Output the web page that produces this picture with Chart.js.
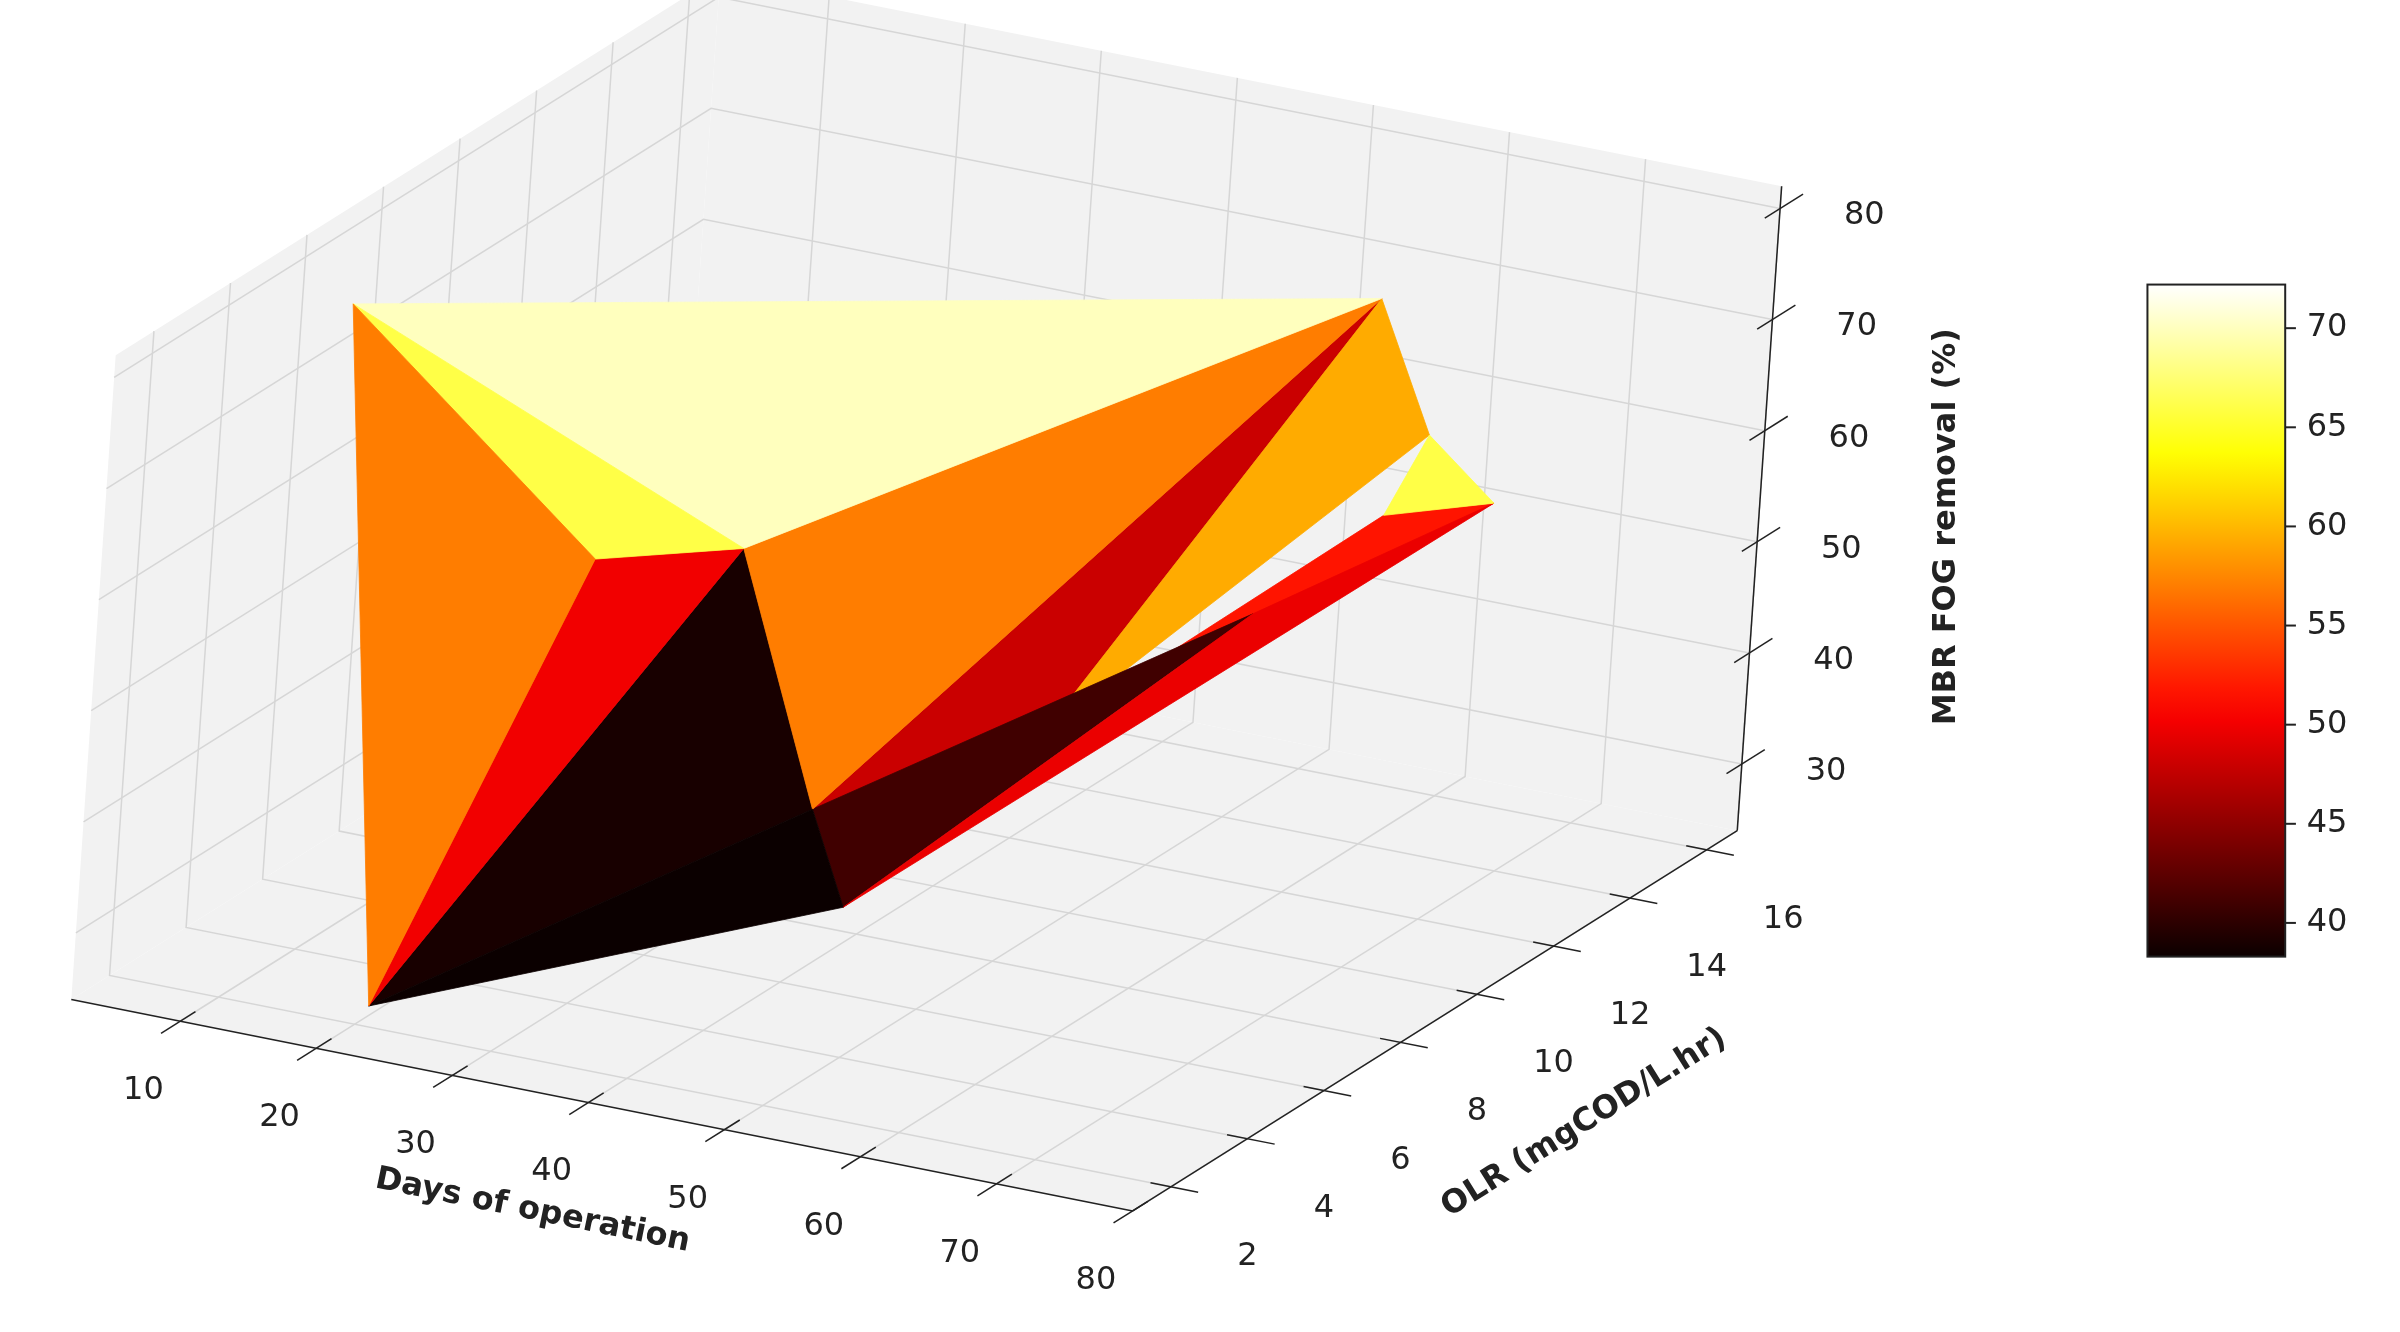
<!DOCTYPE html>
<html>
<head>
<meta charset="utf-8">
<script src="https://cdn.jsdelivr.net/npm/chart.js@4.4.1/dist/chart.umd.min.js"></script>
<style>
  html, body { margin: 0; padding: 0; background: #fff; }
  #wrap { width: 2400px; height: 1332px; }
</style>
</head>
<body>
<div id="wrap"><canvas id="c"></canvas></div>
<script>
// surface vertices (days, OLR, removal %)
const dayValues = [4.1, 22, 34.6, 27.8, 37.8, 66.7, 35.5, 71.1, 73.2, 71.9, 56.7, 50.7];
const olrValues = [6.6, 1.6, 2.2, 8.8, 7.4, 11.1, 14.4, 11.0, 12.1, 9.6, 1.3, 14.2];
const removalValues = [75, 27, 69, 54, 36, 81, 27, 70, 62, 66, 45, 42];
const triangles = [[0,1,2],[0,2,3],[0,3,5],[2,1,3],[3,1,4],[3,4,5],[4,6,5],[5,7,6],[7,8,9],[6,9,8],[1,10,4],[4,10,11],[10,8,11]];

const dayTicks = [10, 20, 30, 40, 50, 60, 70, 80];
const olrTicks = [2, 4, 6, 8, 10, 12, 14, 16];
const zTicks = [30, 40, 50, 60, 70, 80];
const cbarTicks = [40, 45, 50, 55, 60, 65, 70];
const dayRange = [2, 80], olrRange = [1, 16.8], zRange = [24, 82];
const cMin = 38.3, cMax = 72.2;

// projection into reference pixel space (1568 x 880)
function proj(d, o, z) {
  return {
    x: 740 + (d - 80) * 8.89 + (o - 1) * 25 + (z - 24) * 0.5,
    y: 800 + (d - 80) * 1.79 - (o - 1) * 15.9 - (z - 24) * 7.34
  };
}
function depth(d, o, z) {
  const xn = (d - dayRange[0]) / (dayRange[1] - dayRange[0]);
  const yn = (o - olrRange[0]) / (olrRange[1] - olrRange[0]);
  const zn = (z - zRange[0]) / (zRange[1] - zRange[0]);
  return 0.433 * xn - 0.75 * yn + 0.5 * zn;
}
function hot(t) {
  t = Math.max(0, Math.min(1, t));
  const c = v => Math.round(255 * Math.max(0, Math.min(1, v)));
  return `rgb(${c(0.0416 + t / 0.365 * 0.958)},${c((t - 0.365) / 0.381)},${c((t - 0.746) / 0.254)})`;
}

const back = [];   // drawn first
const PANE = 'rgba(242,242,242,1)', GRID = '#d6d6d6';
function poly(pts, fillCol, lineCol, w) {
  return { data: pts.map(p => proj(...p)), showLine: true, pointRadius: 0,
    borderColor: lineCol, borderWidth: w, backgroundColor: fillCol, fill: fillCol ? 'shape' : false };
}
const [d0, d1] = dayRange, [o0, o1] = olrRange, [z0, z1] = zRange;
// panes
back.push(poly([[d0,o0,z0],[d0,o1,z0],[d0,o1,z1],[d0,o0,z1],[d0,o0,z0]], PANE, PANE, 0));
back.push(poly([[d0,o1,z0],[d1,o1,z0],[d1,o1,z1],[d0,o1,z1],[d0,o1,z0]], PANE, PANE, 0));
back.push(poly([[d0,o0,z0],[d1,o0,z0],[d1,o1,z0],[d0,o1,z0],[d0,o0,z0]], PANE, PANE, 0));
// grid lines
dayTicks.forEach(d => {
  back.push(poly([[d,o0,z0],[d,o1,z0],[d,o1,z1]], null, GRID, 1.5));
});
olrTicks.forEach(o => {
  back.push(poly([[d1,o,z0],[d0,o,z0],[d0,o,z1]], null, GRID, 1.5));
});
zTicks.forEach(z => {
  back.push(poly([[d0,o0,z],[d0,o1,z],[d1,o1,z]], null, GRID, 1.5));
});
// axis lines and tick marks
const AX = '#222';
back.push(poly([[d0,o0,z0],[d1,o0,z0]], null, AX, 1.5));
back.push(poly([[d1,o0,z0],[d1,o1,z0]], null, AX, 1.5));
back.push(poly([[d1,o1,z0],[d1,o1,z1]], null, AX, 1.5));
dayTicks.forEach(d => back.push(poly([[d,o0+0.4,z0],[d,o0-0.5,z0]], null, AX, 1.5)));
olrTicks.forEach(o => back.push(poly([[d1-1.5,o,z0],[d1+2,o,z0]], null, AX, 1.5)));
zTicks.forEach(z => back.push(poly([[d1,o1-0.4,z],[d1,o1+0.6,z]], null, AX, 1.5)));

// surface triangles, sorted back to front
const tris = triangles.map(t => {
  const pts = t.map(i => [dayValues[i], olrValues[i], removalValues[i]]);
  const m = pts.reduce((s, p) => s + p[2], 0) / 3;
  const dp = pts.reduce((s, p) => s + depth(...p), 0) / 3;
  return { pts, m, dp };
}).sort((a, b) => a.dp - b.dp);
tris.forEach(t => {
  const col = hot((t.m - cMin) / (cMax - cMin));
  back.push(poly([...t.pts, t.pts[0]], col, col, 0.8));
});

const datasets = back.slice().reverse();

const labels = {
  id: 'labels',
  afterDraw(chart) {
    const ctx = chart.ctx, sx = chart.scales.x, sy = chart.scales.y;
    const px = p => ({ x: sx.getPixelForValue(p.x), y: sy.getPixelForValue(p.y) });
    const k = chart.width / 1568;
    ctx.save();
    ctx.fillStyle = '#222';
    ctx.textAlign = 'center'; ctx.textBaseline = 'middle';
    ctx.font = `${Math.round(21 * k)}px "DejaVu Sans"`;
    dayTicks.forEach(d => {
      const p = proj(d, o0, z0); const q = px({ x: p.x - 24, y: p.y + 46 });
      ctx.fillText(String(d), q.x, q.y);
    });
    olrTicks.forEach(o => {
      const p = proj(d1, o, z0); const q = px({ x: p.x + 50, y: p.y + 46 });
      ctx.fillText(String(o), q.x, q.y);
    });
    zTicks.forEach(z => {
      const p = proj(d1, o1, z); const q = px({ x: p.x + 55, y: p.y + 5 });
      ctx.fillText(String(z), q.x, q.y);
    });
    ctx.font = `bold ${Math.round(21 * k)}px "DejaVu Sans"`;
    const rot = (text, x, y, a) => {
      const q = px({ x, y });
      ctx.save(); ctx.translate(q.x, q.y); ctx.rotate(a * Math.PI / 180);
      ctx.fillText(text, 0, 0); ctx.restore();
    };
    rot('Days of operation', 348, 800, 11.5);
    rot('OLR (mgCOD/L.hr)', 1035, 742, -32);
    rot('MBR FOG removal (%)', 1272, 348, -90);

    // colour bar
    const a = px({ x: 1403, y: 188 }), b = px({ x: 1493, y: 632 });
    const g = ctx.createLinearGradient(0, b.y, 0, a.y);
    for (let i = 0; i <= 20; i++) g.addColorStop(i / 20, hot(i / 20));
    ctx.fillStyle = g;
    ctx.fillRect(a.x, a.y, b.x - a.x, b.y - a.y);
    ctx.strokeStyle = '#222'; ctx.lineWidth = 2;
    ctx.strokeRect(a.x, a.y, b.x - a.x, b.y - a.y);
    ctx.fillStyle = '#222'; ctx.textAlign = 'left';
    ctx.font = `${Math.round(21 * k)}px "DejaVu Sans"`;
    cbarTicks.forEach(v => {
      const y = b.y + (a.y - b.y) * (v - cMin) / (cMax - cMin);
      ctx.beginPath(); ctx.moveTo(b.x, y); ctx.lineTo(b.x + 7 * k, y); ctx.stroke();
      ctx.fillText(String(v), b.x + 14 * k, y);
    });
    ctx.restore();
  }
};

new Chart(document.getElementById('c'), {
  type: 'scatter',
  data: { datasets },
  options: {
    responsive: true,
    maintainAspectRatio: false,
    animation: false,
    layout: { padding: 0 },
    scales: {
      x: { type: 'linear', min: 0, max: 1568, display: false },
      y: { type: 'linear', min: 0, max: 880, reverse: true, display: false }
    },
    plugins: { legend: { display: false }, tooltip: { enabled: false } },
    elements: { line: { tension: 0 } }
  },
  plugins: [labels]
});
</script>
</body>
</html>
